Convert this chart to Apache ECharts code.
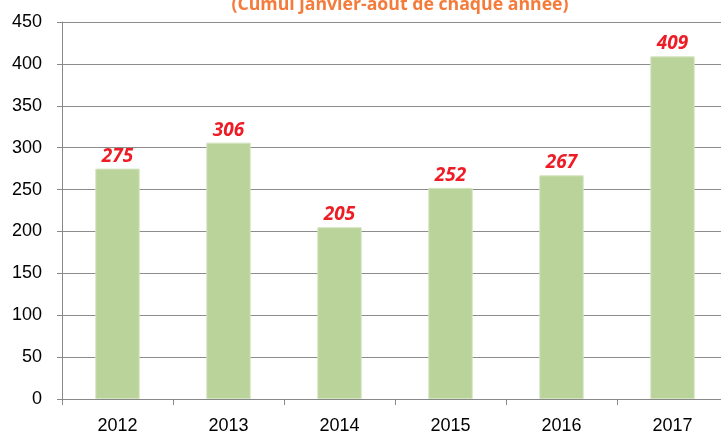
<!DOCTYPE html>
<html>
<head>
<meta charset="utf-8">
<script src="https://cdn.jsdelivr.net/npm/echarts@6/dist/echarts.min.js"></script>
<style>
  html, body { margin: 0; padding: 0; background: #fff; }
  #chart { width: 721px; height: 433px; }
</style>
</head>
<body>
<div id="chart"></div>
<script>
  var years = ['2012', '2013', '2014', '2015', '2016', '2017'];
  var values = [275, 306, 205, 252, 267, 409];
  var yTicks = [0, 50, 100, 150, 200, 250, 300, 350, 400, 450];

  var myChart = echarts.init(document.getElementById('chart'));
  var option = {
    animation: false,
    title: {
      text: '(Cumul janvier-août de chaque année)',
      left: 395,
      textAlign: 'center',
      top: -9,
      textStyle: {
        color: '#F47B3A',
        fontFamily: 'Open Sans',
        fontWeight: 'bold',
        fontSize: 17.7
      }
    },
    grid: {
      top: 22,
      left: 62,
      width: 666,
      bottom: 34,
      outerBoundsMode: 'none'
    },
    xAxis: {
      type: 'category',
      data: years,
      axisTick: {
        show: true,
        alignWithLabel: false,
        length: 6,
        lineStyle: { color: '#888' }
      },
      axisLine: { lineStyle: { color: '#888' } },
      axisLabel: {
        color: '#000',
        fontFamily: 'Liberation Sans',
        fontSize: 18,
        margin: 18
      }
    },
    yAxis: {
      type: 'value',
      min: yTicks[0],
      max: yTicks[yTicks.length - 1],
      interval: 50,
      axisLine: { show: true, lineStyle: { color: '#888' } },
      axisTick: { show: true, length: 5, lineStyle: { color: '#888' } },
      splitLine: { lineStyle: { color: '#8c8c8c' } },
      axisLabel: {
        color: '#000',
        fontFamily: 'Liberation Sans',
        fontSize: 18,
        margin: 20
      }
    },
    series: [{
      type: 'bar',
      data: values,
      barWidth: '40%',
      itemStyle: {
        color: '#B9D39A',
        borderColor: '#D3E4C0',
        borderWidth: 1
      },
      label: {
        show: true,
        position: 'top',
        distance: 3,
        color: '#EE1C25',
        fontSize: 19,
        fontWeight: 'bold',
        fontStyle: 'italic',
        fontFamily: 'Open Sans'
      }
    }]
  };
  myChart.setOption(option);
</script>
</body>
</html>
